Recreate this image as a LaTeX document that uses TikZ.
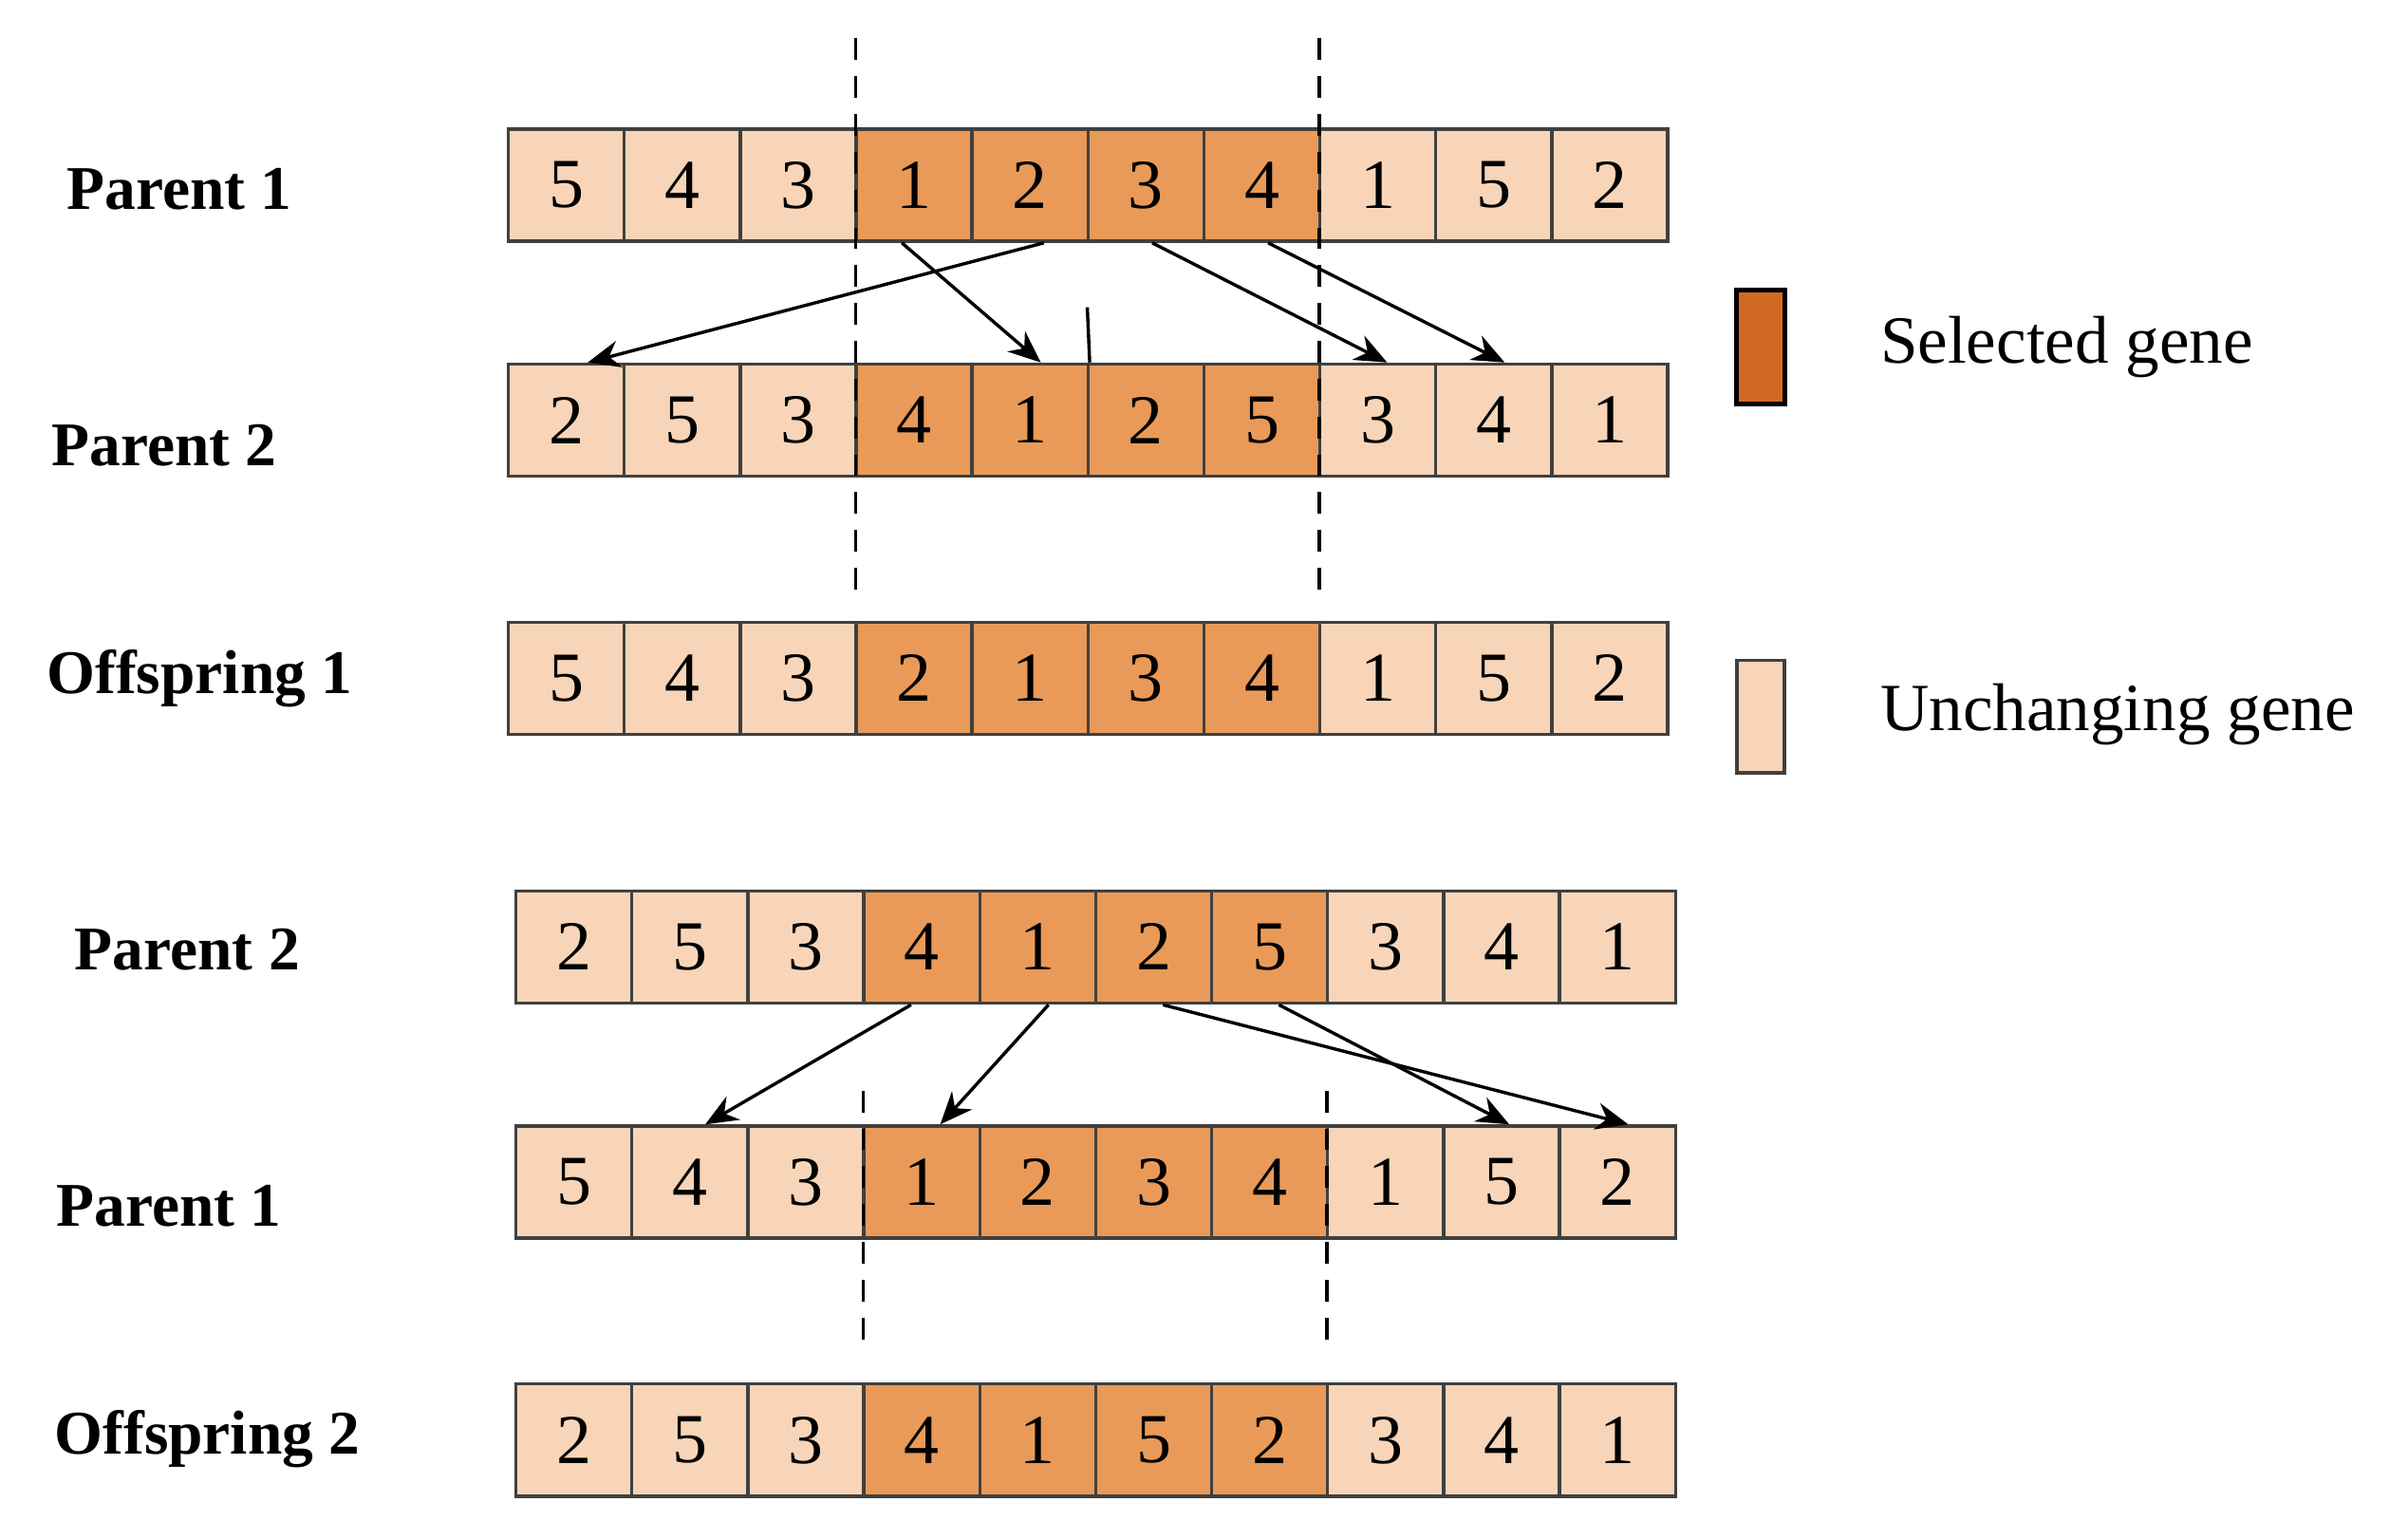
\documentclass[tikz,border=0pt]{standalone}
\usepackage{fontspec}
\setmainfont{Liberation Serif}
\usetikzlibrary{arrows.meta}
\definecolor{light}{HTML}{F8D5B8}
\definecolor{sel}{HTML}{E99A58}
\definecolor{legsel}{HTML}{D06A22}
\definecolor{bord}{HTML}{404040}
\tikzset{
  cell/.style={draw=bord,line width=0.6pt,minimum width=0.755cm,minimum height=0.73cm,inner sep=0pt,font=\fontsize{13}{13}\selectfont,anchor=center},
  lt/.style={cell,fill=light},
  sl/.style={cell,fill=sel},
  lab/.style={font=\fontsize{11.5}{12}\selectfont\bfseries},
  arr/.style={line width=0.6pt,-{Stealth[length=6pt,width=5pt]}},
  cut/.style={line width=0.6pt,dash pattern=on 4pt off 3pt},
  leg/.style={font=\fontsize{12.5}{13}\selectfont,anchor=west}
}
\newcommand{\generow}[4]{% name, x0, y, digits
  \foreach \d [count=\i] in {#4}{
    \pgfmathsetmacro{\cx}{#2+(\i-0.5)*75.5}
    \ifnum\i>3 \ifnum\i<8 \def\sty{sl}\else\def\sty{lt}\fi\else\def\sty{lt}\fi
    \node[\sty] (#1c\i) at (\cx,#3) {\d};
  }}
\begin{document}
\begin{tikzpicture}[x=0.01cm,y=-0.01cm]
\useasboundingbox (0,0) rectangle (1568,990);
\generow{r1}{331}{120.5}{5,4,3,1,2,3,4,1,5,2}
\generow{r2}{331}{273.5}{2,5,3,4,1,2,5,3,4,1}
\generow{r3}{331}{441.5}{5,4,3,2,1,3,4,1,5,2}
\generow{r4}{336}{616.5}{2,5,3,4,1,2,5,3,4,1}
\generow{r5}{336}{769.5}{5,4,3,1,2,3,4,1,5,2}
\generow{r6}{336}{937.5}{2,5,3,4,1,5,2,3,4,1}
\node[lab] (l1) at (117,123) {Parent 1};
\node[lab] (l2) at (107,290) {Parent 2};
\node[lab] (l3) at (130,442) {Offspring 1};
\node[lab] (l4) at (122,618) {Parent 2};
\node[lab] (l5) at (110,785) {Parent 1};
\node[lab] (l6) at (135,937) {Offspring 2};
% cut lines
\coordinate (t1a) at (557,25); \coordinate (t1b) at (557,385);
\coordinate (t2a) at (859,25); \coordinate (t2b) at (859,385);
\coordinate (b1a) at (562,710); \coordinate (b1b) at (562,880);
\coordinate (b2a) at (864,710); \coordinate (b2b) at (864,880);
\draw[cut] (t1a) -- (t1b); \draw[cut] (t2a) -- (t2b);
\draw[cut] (b1a) -- (b1b); \draw[cut] (b2a) -- (b2b);
\coordinate (tk) at (708,200);
\draw[line width=0.6pt] (tk) -- (r2c5.north east);
% arrows top
\draw[arr] ([xshift=-0.08cm]r1c4.south) -- ([xshift=0.07cm]r2c5.north);
\draw[arr] ([xshift=0.09cm]r1c5.south) -- ([xshift=0.14cm]r2c1.north);
\draw[arr] ([xshift=0.04cm]r1c6.south) -- ([xshift=0.06cm]r2c8.north);
\draw[arr] ([xshift=0.04cm]r1c7.south) -- ([xshift=0.07cm]r2c9.north);
% arrows bottom
\draw[arr] ([xshift=-0.07cm]r4c4.south) -- ([xshift=0.10cm]r5c2.north);
\draw[arr] ([xshift=0.07cm]r4c5.south) -- ([xshift=0.12cm]r5c4.north);
\draw[arr] ([xshift=0.06cm]r4c6.south) -- ([xshift=0.07cm]r5c10.north);
\draw[arr] ([xshift=0.06cm]r4c7.south) -- ([xshift=0.05cm]r5c9.north);
% legend
\node[draw=black,line width=0.9pt,fill=legsel,minimum width=0.31cm,minimum height=0.74cm,inner sep=0pt] (ls) at (1146.5,226) {};
\node[draw=bord,line width=0.6pt,fill=light,minimum width=0.31cm,minimum height=0.73cm,inner sep=0pt] (lu) at (1146.5,466.5) {};
\node[leg] (lst) at (1212,226) {Selected gene};
\node[leg] (lut) at (1212,465) {Unchanging gene};
\end{tikzpicture}
\end{document}
